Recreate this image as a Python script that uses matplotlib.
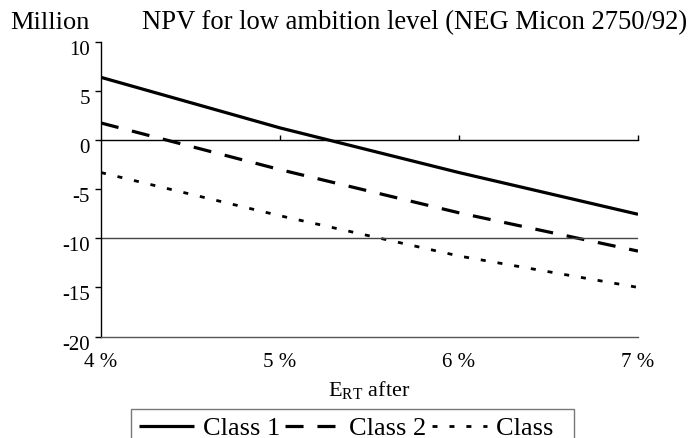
import matplotlib
matplotlib.use("Agg")
import matplotlib.pyplot as plt
import matplotlib.transforms as mtransforms

# ---- data ----
categories = ["4 %", "5 %", "6 %", "7 %"]
class1 = [6.4, 1.25, -3.3, -7.55]
class2 = [1.75, -3.0, -7.4, -11.3]
class3 = [-3.3, -7.7, -11.8, -15.0]
labels = ["Class 1", "Class 2", "Class  "]
yticks = [10, 5, 0, -5, -10, -15, -20]

plt.rcParams['font.family'] = ['Liberation Serif', 'DejaVu Serif']
plt.rcParams['mathtext.fontset'] = 'custom'
plt.rcParams['mathtext.rm'] = 'Liberation Serif'
plt.rcParams['mathtext.it'] = 'Liberation Serif:italic'
plt.rcParams['lines.scale_dashes'] = False

W, H = 692, 438
fig = plt.figure(figsize=(W / 100, H / 100), dpi=100)
ax = fig.add_axes([101 / W, 1 - 336.5 / H, (638 - 101) / W, (336.5 - 42) / H])

x = list(range(len(categories)))
l1, = ax.plot(x, class1, color='black', lw=2.3, solid_capstyle='butt')
l2, = ax.plot(x, class2, color='black', lw=2.3, dashes=(13, 10), dash_capstyle='butt')
l3, = ax.plot(x, class3, color='black', lw=2.0, dashes=(3.6, 8.6), dash_capstyle='butt')

ax.set_xlim(0, len(categories) - 1)
ax.set_ylim(-20, 10)

for s in ['top', 'right']:
    ax.spines[s].set_visible(False)
ax.spines['bottom'].set_color('#555555')
ax.spines['bottom'].set_linewidth(1.0)
ax.spines['left'].set_color('black')
ax.spines['left'].set_linewidth(1.0)

ax.set_yticks(yticks)
ax.set_yticklabels([str(v) for v in yticks])
ax.tick_params(axis='y', direction='out', length=4, width=1, labelsize=15, pad=4)
off = mtransforms.ScaledTranslation(0, -6 / 100, fig.dpi_scale_trans)
for lab in ax.get_yticklabels():
    lab.set_transform(lab.get_transform() + off)

ax.set_xticks(x)
ax.set_xticklabels(categories)
ax.tick_params(axis='x', length=0, labelsize=15, pad=12)

ax.axhline(-10, color='#444444', lw=1.0)

# zero line with upward ticks
sec = ax.secondary_xaxis(20 / 30)
sec.set_xticks(x[1:])
sec.set_xticklabels([])
sec.tick_params(axis='x', direction='out', length=3.5, width=1, color='black')
sec.spines['top'].set_color('black')
sec.spines['top'].set_linewidth(1.0)
sec.spines['bottom'].set_visible(False)

ax.set_xlabel(r'E$_{\mathrm{RT}}$ after', fontsize=16, labelpad=5)

fig.text(10 / W, 1 - 29 / H, 'Million', fontsize=19, va='baseline', ha='left')
fig.text(142 / W, 1 - 29 / H, 'NPV for low ambition level (NEG Micon 2750/92)',
         fontsize=19.2, va='baseline', ha='left')

leg = fig.legend([l1, l2, l3], labels, loc='upper left',
                 bbox_to_anchor=(131 / W, 1 - 409 / H), ncol=3, fontsize=19,
                 frameon=True, fancybox=False, handlelength=2.08,
                 handletextpad=0.34, columnspacing=0.2, borderpad=0.3,
                 borderaxespad=0)
leg.get_frame().set_edgecolor('#555555')
leg.get_frame().set_linewidth(1.0)

fig.savefig('out.png', dpi=100)
